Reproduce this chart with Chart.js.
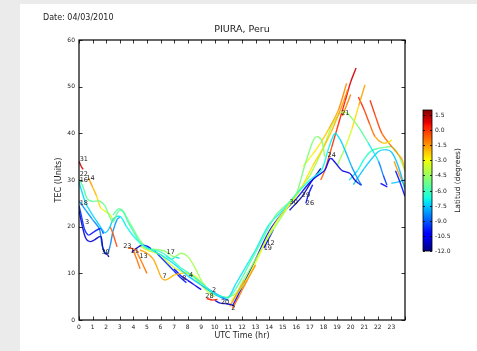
<!DOCTYPE html>
<html>
<head>
<meta charset="utf-8">
<script src="https://cdn.jsdelivr.net/npm/chart.js@4.4.1/dist/chart.umd.min.js"></script>
<style>
  html, body { margin: 0; padding: 0; background: #ebebeb; }
  #panel { position: absolute; left: 20px; top: 4px; width: 457px; height: 347px; background: #fff; }
  #wrap { position: absolute; left: 0; top: 0; width: 477px; height: 351px; }
</style>
</head>
<body>
<div id="panel"></div>
<div id="wrap"><canvas id="chartTec" width="477" height="351"></canvas></div>
<script>
// Datos: cada pista de satelite (hora UTC, TEC, latitud del punto)
const trackHours = [
  [0, 0.15, 0.3],
  [0, 0.3, 0.6, 1, 1.5, 1.9, 2.2, 2.5, 2.8, 3.0, 3.3, 3.6, 4.0, 4.5, 5, 5.5, 6, 6.5, 7, 7.5, 8, 8.5, 9, 9.5, 10, 10.5],
  [0, 0.5, 1, 1.5, 1.9, 2.2, 2.5, 2.8, 3.1, 3.5, 4, 4.5, 5, 6, 7, 8, 9, 10, 10.5],
  [0.7, 1.0, 1.3, 1.6, 2.0, 2.3, 2.5],
  [2.3, 2.5, 2.8],
  [0, 0.2, 0.4, 0.7, 1.1, 1.6, 1.8],
  [0, 0.25, 0.5, 0.8, 1.1, 1.6, 1.75, 1.9, 2.1, 2.2],
  [0, 0.5, 1, 1.5, 1.7, 1.9, 2.1, 2.3, 2.5, 2.8, 3.0],
  [3.6, 4.0, 4.4],
  [3.9, 4.2, 4.6, 5, 5.3],
  [4.0, 4.25, 4.5],
  [4.3, 4.65, 5.0],
  [4.5, 5, 5.5, 6.1, 6.4, 7, 7.5, 8, 8.5, 9, 9.3],
  [2.5, 2.9, 3.2, 3.6, 4.0, 4.5, 5, 5.5, 6, 6.5, 7, 7.5, 8, 8.5, 9.1, 9.5, 10],
  [4.4, 5, 5.5, 6, 6.5, 7, 7.5, 8, 8.5, 9, 9.5, 10],
  [5.5, 6, 6.5, 7, 7.5, 7.9],
  [7.0, 7.5, 8, 8.5, 9],
  [6.4, 6.8, 7.1, 7.4],
  [9.3, 9.7, 10.1, 10.5, 11],
  [9.4, 9.8, 10.2],
  [10.0, 10.4, 10.8, 11.2, 11.4],
  [11.3, 11.8, 12.4, 13.0],
  [11.1, 11.6, 12.2],
  [10.3, 11, 11.5, 12, 12.5, 13, 13.5, 14, 14.5, 15, 15.5, 16, 16.6, 17.2, 17.5, 17.85, 18.1],
  [10.5, 11, 11.5, 12, 12.5, 13, 14, 15, 16, 17, 17.85, 18.4, 18.84, 19.2, 19.58, 20.07, 20.57, 20.8],
  [11.2, 12.2, 13.2, 14, 15, 16, 16.5, 17.2, 18, 18.6, 19.1, 19.5, 19.8],
  [16.5, 17.2, 17.8, 18.4, 19.1, 19.7],
  [10.8, 11.5, 12, 13, 14, 15, 16, 17, 18, 18.6, 19.1, 19.4, 19.8, 20.57, 21.3, 22.05, 22.4, 22.67],
  [11.3, 12, 13, 14, 15, 16, 17, 17.6, 18.1, 18.47, 18.7, 19.33, 19.95, 20.3, 20.57, 20.8],
  [15.5, 16.4, 17.1, 17.8],
  [17.8, 18.1, 18.6, 19.1, 19.6, 20.0, 20.4],
  [19.4, 19.7, 20.0],
  [19.0, 19.6, 20.1, 20.6, 21.06],
  [20.57, 21.0, 21.4, 21.8, 22.3, 22.7, 23.04],
  [21.43, 21.8, 22.3, 23.04, 23.5, 23.8, 24],
  [19.9, 20.5, 21.0, 21.5, 22.05, 22.5, 23.04, 23.5, 24],
  [20.2, 21, 22, 22.5, 23, 23.5, 24],
  [22.2, 22.7],
  [23.3, 23.7, 24],
  [23.0, 23.5, 24],
  [23.2, 23.6, 24],
  [13.6, 13.9, 14.3],
  [16.7, 16.9, 17.2]
];

const trackTec = [
  [34, 33, 32.3],
  [30.2, 28.5, 26, 25.4, 25.5, 24.5, 22.5, 21, 22.8, 23.5, 23, 21, 19, 16.5, 15.3, 15, 14.6, 13.7, 12.5, 11.2, 10.2, 9.2, 8, 6.7, 5.6, 4.9],
  [29.5, 25, 22.5, 20.3, 18.7, 19.5, 21.5, 22.2, 22, 20, 18, 16.5, 15.5, 14, 12, 9.5, 7.5, 5.5, 4.8],
  [30.4, 28.5, 26.5, 24, 23.2, 22.5, 21.5],
  [20, 18.5, 15.7],
  [24.5, 22, 19.5, 18.2, 18.9, 19.6, 18.5],
  [23.5, 20, 17.5, 16.8, 17.1, 17.9, 15.5, 14.3, 14, 13.5],
  [25.5, 23.5, 21.5, 19.5, 16, 14.5, 14.3, 16, 19, 21.5, 22],
  [15.4, 15.3, 14.5],
  [14.6, 15.3, 16, 15.8, 15.3],
  [15, 13, 11],
  [14.3, 12.2, 10],
  [15, 14.3, 12.9, 8.9, 8.6, 9.6, 10, 10, 9.5, 8, 7.5],
  [22.5, 23.8, 23.5, 21.5, 19.5, 17, 15.5, 15.2, 15, 14.5, 13.5, 14.3, 13.6, 11.4, 8, 6.5, 5.5],
  [16, 15, 14.5, 14, 12.5, 11.2, 10.5, 10, 9, 7.5, 6, 5],
  [15, 13.5, 12, 10.5, 9, 8],
  [11, 9.5, 8.5, 7.5, 6.5],
  [13.8, 13, 13.5, 13.2],
  [7, 6.3, 5.6, 4.8, 4.2],
  [4.6, 4.3, 4.4],
  [4.2, 3.6, 3.5, 3.3, 3.0],
  [2.5, 5.2, 8.6, 11.8],
  [2.9, 5.5, 8.6],
  [5.3, 4.8, 6.5, 9, 11.8, 14.5, 17.2, 20, 22.5, 24, 25.3, 27, 32.9, 38.2, 39.3, 38.6, 35],
  [5, 4.8, 7.5, 10, 12.5, 15, 20.5, 23.5, 27, 30, 32.1, 37, 40, 38.8, 36.4, 32.9, 30, 28.9],
  [4, 8, 13.5, 18.5, 23, 26.5, 29, 33, 37, 40.5, 44, 47, 49.5],
  [32.9, 35.5, 38, 41, 45, 50.7],
  [4.8, 5.5, 8, 13, 18, 22.5, 27, 31, 37, 41.5, 44, 44.6, 44.2, 41.4, 37.9, 34, 31, 28.9],
  [3, 7, 13, 19, 23, 26, 29.5, 31, 32.1, 34.6, 34.3, 32.1, 31.4, 30, 29.3, 28.9],
  [23.5, 26.4, 29.6, 32.5],
  [30, 32.1, 37, 42, 47, 51, 54],
  [43.7, 46, 48.3],
  [33, 37, 41, 46, 50.4],
  [47.8, 45, 42, 39.3, 38, 38, 38.6],
  [47.1, 43.9, 40, 37.1, 35.5, 34.3, 32.1],
  [30, 32, 34.5, 36.2, 36.8, 37, 37.1, 35.5, 32],
  [29, 32.5, 36, 36.5, 36, 33, 28],
  [29.3, 28.5],
  [32, 29, 26.5],
  [29.3, 29.6, 30],
  [34, 31, 28.5],
  [15.4, 17, 19.3],
  [25, 27, 29]
];

const trackLat = [
  [1.2, 1.0, 0.8],
  [-5.8, -5.8, -5.6, -5.4, -5.3, -5.2, -5.2, -5.3, -5.5, -5.6, -5.7, -5.8, -5.9, -6.0, -6.0, -6.1, -6.1, -6.2, -6.2, -6.3, -6.3, -6.4, -6.4, -6.5, -6.6, -6.7],
  [-7.2, -7.2, -7.3, -7.4, -7.5, -7.5, -7.4, -7.2, -7.0, -6.9, -6.8, -6.8, -6.9, -7.0, -7.1, -7.3, -7.5, -7.8, -8.0],
  [-1.5, -1.8, -2.2, -2.8, -3.2, -3.4, -3.6],
  [-0.8, -0.5, -0.2],
  [-9.6, -9.7, -9.8, -9.9, -10, -10, -10],
  [-11, -11, -11.1, -11.1, -11.2, -11.2, -11.3, -11.3, -11.4, -11.4],
  [-8.2, -8.2, -8.3, -8.4, -8.5, -8.6, -8.6, -8.5, -8.3, -8.1, -8.0],
  [-0.3, -0.5, -0.8],
  [-11.2, -11, -10.8, -10.6, -10.4],
  [-0.8, -0.9, -1.0],
  [-1.2, -1.0, -0.8],
  [-1.6, -1.6, -1.7, -1.7, -1.8, -2.0, -2.3, -2.6, -2.9, -3.2, -3.4],
  [-5.6, -5.5, -5.4, -5.3, -5.2, -5.1, -5.0, -4.9, -4.8, -4.7, -4.6, -4.5, -4.4, -4.3, -4.2, -4.1, -4.0],
  [-3.6, -3.6, -3.5, -3.5, -3.4, -3.4, -3.4, -3.5, -3.6, -3.8, -4, -4.2],
  [-9.6, -9.7, -9.8, -9.9, -10, -10.1],
  [-10.4, -10.5, -10.6, -10.7, -10.8],
  [-7, -7.1, -7.1, -7.2],
  [-8.4, -8.5, -8.6, -8.7, -8.8],
  [0.3, 0.3, 0.2],
  [-11, -11, -11.1, -11.1, -11.2],
  [-0.5, -1, -1.3, -1.6],
  [-1.5, -1.6, -1.7],
  [-6, -6, -6, -5.9, -5.8, -5.7, -5.6, -5.5, -5.4, -5.3, -5.2, -5.1, -5.0, -4.9, -4.8, -4.8, -4.7],
  [-7.4, -7.3, -7.2, -7.1, -7, -7, -6.9, -6.9, -6.8, -6.8, -6.8, -6.9, -7.0, -7.2, -7.5, -8, -8.5, -8.8],
  [-3.4, -3.3, -3.2, -3.1, -3, -2.9, -2.8, -2.6, -2.3, -2, -1.7, -1.4, -1.2],
  [-3.3, -3, -2.5, -2, -1.5, -1],
  [-4.6, -4.6, -4.5, -4.5, -4.4, -4.4, -4.3, -4.3, -4.2, -4.2, -4.2, -4.2, -4.4, -5, -6.2, -7.8, -9, -9.8],
  [-10, -10, -10.1, -10.1, -10.2, -10.2, -10.3, -10.4, -10.5, -10.6, -10.7, -10.8, -10.9, -11, -11.1, -11.2],
  [-11.5, -11.5, -11.4, -11.3],
  [-0.8, -0.5, 0, 0.3, 0.6, 0.9, 1.1],
  [-1.3, -1.2, -1.1],
  [-4.8, -4, -3, -2, -1.3],
  [0.5, 0, -0.5, -1.2, -2, -2.5, -2.8],
  [0.3, 0, -0.5, -1.2, -1.5, -1.8, -2],
  [-7.5, -7, -6.5, -6, -5.5, -5.2, -5, -4.8, -5],
  [-7.5, -7.5, -7.4, -7.4, -7.5, -7.6, -7.7],
  [-10.5, -10.5],
  [-10, -10, -10],
  [-7.5, -7.5, -7.5],
  [-1.5, -1.5, -1.5],
  [-10.5, -10.5, -10.5],
  [-10, -10, -10]
];

// Etiquetas PRN sobre las curvas
const prnText = ['31', '22', '16', '14', '18', '3', '30', '23', '11', '13', '17', '7', '8', '4', '2', '28', '20', '2', '12', '19', '30', '29', '26', '24', '21'];
const prnHour = [0.05, 0.05, 0.05, 0.55, 0.05, 0.45, 1.65, 3.25, 3.8, 4.45, 6.45, 6.15, 7.6, 8.1, 9.8, 9.3, 10.45, 11.2, 13.8, 13.6, 15.5, 16.4, 16.7, 18.3, 19.3];
const prnTec = [34.5, 31.3, 30.0, 30.4, 25.1, 21, 14.6, 15.7, 14.8, 13.6, 14.4, 9.3, 8.9, 9.6, 6.4, 5.1, 3.7, 2.6, 16.5, 15.4, 25.2, 26.8, 25.1, 35.2, 44.3];

// Barra de color
const latMin = -12;
const latMax = 2;
const colorbarTicks = [1.5, 0, -1.5, -3, -4.5, -6, -7.5, -9, -10.5, -12];

const FONT = '"DejaVu Sans", sans-serif';

// colormap jet (igual que matplotlib)
const jetR = [[0, 0], [0.35, 0], [0.66, 1], [0.89, 1], [1, 0.5]];
const jetG = [[0, 0], [0.125, 0], [0.375, 1], [0.64, 1], [0.91, 0], [1, 0]];
const jetB = [[0, 0.5], [0.11, 1], [0.34, 1], [0.65, 0], [1, 0]];

function channel(pts, t) {
    for (let i = 1; i < pts.length; i++) {
        if (t <= pts[i][0]) {
            const f = (t - pts[i - 1][0]) / (pts[i][0] - pts[i - 1][0]);
            return pts[i - 1][1] + f * (pts[i][1] - pts[i - 1][1]);
        }
    }
    return pts[pts.length - 1][1];
}

function jet(lat, alpha = 1) {
    const t = Math.min(1, Math.max(0, (lat - latMin) / (latMax - latMin)));
    const r = Math.round(255 * channel(jetR, t));
    const g = Math.round(255 * channel(jetG, t));
    const b = Math.round(255 * channel(jetB, t));
    return `rgba(${r},${g},${b},${alpha})`;
}

const datasets = trackHours.map((hours, i) => ({
    data: hours.map((h, j) => ({ x: h, y: trackTec[i][j] })),
    borderColor: jet(trackLat[i][0], 0.9),
    borderWidth: 1.4,
    pointRadius: 0,
    tension: 0.3,
    fill: false,
    segment: {
        borderColor: ctx => jet((trackLat[i][ctx.p0DataIndex] + trackLat[i][ctx.p1DataIndex]) / 2, 0.9)
    }
}));

// Dibuja marco, ticks hacia adentro, textos y barra de color
const decorPlugin = {
    id: 'decor',
    afterDatasetsDraw(chart) {
        const { ctx, chartArea: a, scales } = chart;
        ctx.save();

        // etiquetas PRN
        ctx.fillStyle = '#222';
        ctx.font = '6.5px ' + FONT;
        ctx.textAlign = 'left';
        ctx.textBaseline = 'middle';
        prnText.forEach((txt, i) => {
            ctx.fillText(txt, scales.x.getPixelForValue(prnHour[i]), scales.y.getPixelForValue(prnTec[i]));
        });

        // marco
        ctx.strokeStyle = '#000';
        ctx.lineWidth = 1.2;
        ctx.strokeRect(a.left, a.top, a.right - a.left, a.bottom - a.top);

        // ticks hacia adentro
        ctx.lineWidth = 0.8;
        ctx.beginPath();
        scales.x.ticks.forEach(t => {
            const px = Math.round(scales.x.getPixelForValue(t.value)) + 0.5;
            ctx.moveTo(px, a.bottom); ctx.lineTo(px, a.bottom - 3.5);
            ctx.moveTo(px, a.top); ctx.lineTo(px, a.top + 3.5);
        });
        scales.y.ticks.forEach(t => {
            const py = Math.round(scales.y.getPixelForValue(t.value)) + 0.5;
            ctx.moveTo(a.left, py); ctx.lineTo(a.left + 3.5, py);
            ctx.moveTo(a.right, py); ctx.lineTo(a.right - 3.5, py);
        });
        ctx.stroke();

        // textos
        ctx.fillStyle = '#222';
        ctx.textBaseline = 'alphabetic';
        ctx.font = '8px ' + FONT;
        ctx.textAlign = 'left';
        ctx.fillText('Date: 04/03/2010', 43, 20);
        ctx.font = '9.5px ' + FONT;
        ctx.textAlign = 'center';
        ctx.fillText('PIURA, Peru', (a.left + a.right) / 2, 32);
        ctx.font = '8px ' + FONT;
        ctx.textBaseline = 'middle';
        ctx.fillText('UTC Time (hr)', (a.left + a.right) / 2, 336);
        ctx.save();
        ctx.translate(59, (a.top + a.bottom) / 2);
        ctx.rotate(-Math.PI / 2);
        ctx.fillText('TEC (Units)', 0, 0);
        ctx.restore();

        // barra de color
        const cbX = 423, cbW = 9, cbTop = 110, cbBot = 251;
        const latToY = v => cbBot - (v - latMin) / (latMax - latMin) * (cbBot - cbTop);
        for (let y = cbTop; y < cbBot; y++) {
            ctx.fillStyle = jet(latMin + (cbBot - y - 0.5) / (cbBot - cbTop) * (latMax - latMin));
            ctx.fillRect(cbX, y, cbW, 1);
        }
        ctx.strokeStyle = '#000';
        ctx.lineWidth = 0.8;
        ctx.strokeRect(cbX, cbTop, cbW, cbBot - cbTop);
        ctx.beginPath();
        ctx.fillStyle = '#222';
        ctx.font = '6px ' + FONT;
        ctx.textAlign = 'left';
        colorbarTicks.forEach(v => {
            const y = Math.round(latToY(v)) + 0.5;
            ctx.moveTo(cbX, y); ctx.lineTo(cbX + 2, y);
            ctx.moveTo(cbX + cbW, y); ctx.lineTo(cbX + cbW - 2, y);
            ctx.fillText(v.toFixed(1), cbX + cbW + 3, y);
        });
        ctx.stroke();
        ctx.font = '7.5px ' + FONT;
        ctx.textAlign = 'center';
        ctx.save();
        ctx.translate(458, (cbTop + cbBot) / 2);
        ctx.rotate(-Math.PI / 2);
        ctx.fillText('Latitud (degrees)', 0, 0);
        ctx.restore();

        ctx.restore();
    }
};

new Chart(document.getElementById('chartTec'), {
    type: 'line',
    data: { datasets: datasets },
    options: {
        responsive: false,
        animation: false,
        layout: { padding: { left: 0, top: 40, right: 72, bottom: 0 } },
        plugins: {
            legend: { display: false },
            title: { display: false },
            tooltip: { enabled: false }
        },
        scales: {
            x: {
                type: 'linear',
                min: 0,
                max: 24,
                ticks: {
                    stepSize: 1,
                    autoSkip: false,
                    maxRotation: 0,
                    padding: 4,
                    color: '#222',
                    font: { family: FONT, size: 6 },
                    callback: v => (v < 24 ? String(v) : '')
                },
                grid: { display: false, drawTicks: false },
                border: { display: false },
                afterFit: s => { s.height = 31; }
            },
            y: {
                min: 0,
                max: 60,
                ticks: {
                    stepSize: 10,
                    padding: 4,
                    color: '#222',
                    font: { family: FONT, size: 6 }
                },
                grid: { display: false, drawTicks: false },
                border: { display: false },
                afterFit: s => { s.width = 79; }
            }
        }
    },
    plugins: [decorPlugin]
});
</script>
</body>
</html>
